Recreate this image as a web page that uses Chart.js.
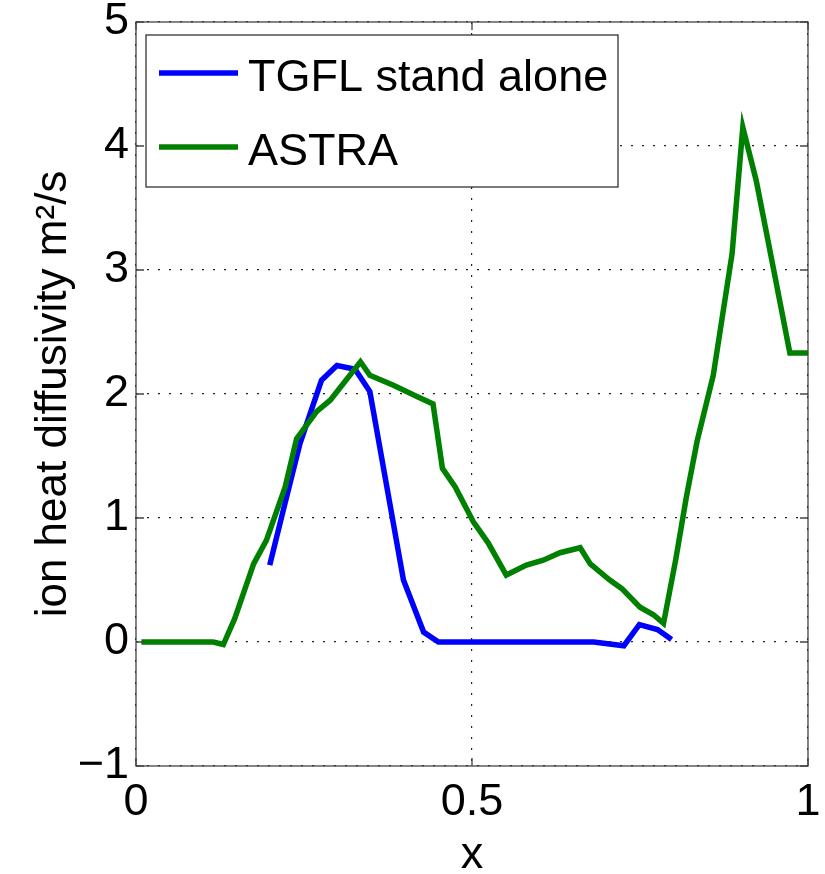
<!DOCTYPE html>
<html>
<head>
<meta charset="utf-8">
<script src="https://cdn.jsdelivr.net/npm/chart.js@4"></script>
<style>
  html, body { margin: 0; padding: 0; background: #fff; }
  #chart { display: block; }
</style>
</head>
<body>
<canvas id="chart" width="825" height="874"></canvas>
<script>
// values
const tgflX = [0.199, 0.219, 0.244, 0.276, 0.299, 0.326, 0.348, 0.398, 0.428, 0.45, 0.681, 0.726, 0.749, 0.776, 0.797];
const tgflY = [0.62, 1.06, 1.60, 2.11, 2.23, 2.20, 2.02, 0.50, 0.08, 0.0, 0.0, -0.03, 0.14, 0.10, 0.02];

const astraX = [0.008, 0.115, 0.13, 0.147, 0.175, 0.194, 0.222, 0.239, 0.269, 0.289, 0.334, 0.348, 0.383, 0.418, 0.442,
  0.456, 0.475, 0.502, 0.524, 0.551, 0.581, 0.606, 0.631, 0.661, 0.676, 0.705, 0.723, 0.75, 0.77, 0.785,
  0.803, 0.819, 0.835, 0.859, 0.887, 0.903, 0.923, 0.949, 0.973, 1.0];
const astraY = [0, 0, -0.02, 0.19, 0.63, 0.82, 1.25, 1.64, 1.86, 1.95, 2.26, 2.15, 2.07, 1.98, 1.92,
  1.40, 1.25, 0.97, 0.80, 0.54, 0.62, 0.66, 0.72, 0.76, 0.63, 0.50, 0.43, 0.28, 0.22, 0.15,
  0.66, 1.17, 1.62, 2.15, 3.13, 4.15, 3.72, 3.00, 2.33, 2.33];

const seriesNames = ["TGFL stand alone", "ASTRA"];
const xTicks = [0, 0.5, 1];
const yTicks = [-1, 0, 1, 2, 3, 4, 5];

const FONT = "'Liberation Sans', Arial, sans-serif";

function toPoints(xs, ys) {
  return xs.map((x, i) => ({ x: x, y: ys[i] }));
}

// matlab style box, inward ticks and legend
const matlabBox = {
  id: "matlabBox",
  afterDraw(chart) {
    const ctx = chart.ctx;
    const a = chart.chartArea;
    const xs = chart.scales.x;
    const ys = chart.scales.y;
    const tl = 8;
    ctx.save();
    ctx.strokeStyle = "#444";
    ctx.lineWidth = 1.3;
    ctx.strokeRect(a.left, a.top, a.right - a.left, a.bottom - a.top);
    ctx.beginPath();
    xTicks.forEach((v) => {
      const px = xs.getPixelForValue(v);
      ctx.moveTo(px, a.bottom); ctx.lineTo(px, a.bottom - tl);
      ctx.moveTo(px, a.top); ctx.lineTo(px, a.top + tl);
    });
    yTicks.forEach((v) => {
      const py = ys.getPixelForValue(v);
      ctx.moveTo(a.left, py); ctx.lineTo(a.left + tl, py);
      ctx.moveTo(a.right, py); ctx.lineTo(a.right - tl, py);
    });
    ctx.stroke();

    // legend
    const bx = a.left + 10, by = a.top + 13, bw = 472, bh = 152;
    ctx.fillStyle = "#fff";
    ctx.fillRect(bx, by, bw, bh);
    ctx.strokeStyle = "#333";
    ctx.lineWidth = 1.3;
    ctx.strokeRect(bx, by, bw, bh);
    ctx.font = "45px " + FONT;
    ctx.textBaseline = "alphabetic";
    ctx.textAlign = "left";
    chart.data.datasets.forEach((ds, i) => {
      const base = by + 56 + i * 74;
      ctx.strokeStyle = ds.borderColor;
      ctx.lineWidth = ds.borderWidth;
      ctx.beginPath();
      ctx.moveTo(bx + 13, base - 18);
      ctx.lineTo(bx + 92, base - 18);
      ctx.stroke();
      ctx.fillStyle = "#000";
      ctx.fillText(ds.label, bx + 102, base);
    });
    ctx.restore();
  }
};

new Chart(document.getElementById("chart"), {
  type: "line",
  data: {
    datasets: [
      {
        label: seriesNames[0],
        data: toPoints(tgflX, tgflY),
        borderColor: "#0000ff",
        borderWidth: 5.5,
        pointRadius: 0,
        tension: 0,
        fill: false,
        order: 1
      },
      {
        label: seriesNames[1],
        data: toPoints(astraX, astraY),
        borderColor: "#008000",
        borderWidth: 5.5,
        pointRadius: 0,
        tension: 0,
        fill: false,
        order: 0
      }
    ]
  },
  options: {
    responsive: false,
    devicePixelRatio: 1,
    animation: false,
    layout: { padding: { top: 22, right: 17, left: 0, bottom: 0 } },
    plugins: {
      legend: { display: false },
      tooltip: { enabled: false }
    },
    scales: {
      x: {
        type: "linear",
        min: 0,
        max: 1,
        afterBuildTicks: (s) => { s.ticks = xTicks.map((v) => ({ value: v })); },
        afterFit: (s) => { s.height = 108; s.paddingLeft = 0; s.paddingRight = 0; },
        ticks: {
          color: "#000",
          font: { family: FONT, size: 45, lineHeight: 0.8 },
          padding: 19,
          maxRotation: 0,
          callback: (v) => String(v)
        },
        grid: { color: "#222", lineWidth: 1.2, drawTicks: false },
        border: { display: false, dash: [2, 9] },
        title: {
          display: true,
          text: "x",
          color: "#000",
          font: { family: FONT, size: 45, lineHeight: 0.8 },
          padding: { top: 0, bottom: 0 }
        }
      },
      y: {
        type: "linear",
        min: -1,
        max: 5,
        afterBuildTicks: (s) => { s.ticks = yTicks.map((v) => ({ value: v })); },
        afterFit: (s) => { s.width = 136; s.paddingTop = 0; s.paddingBottom = 0; },
        ticks: {
          color: "#000",
          font: { family: FONT, size: 45, lineHeight: 0.8 },
          padding: 7,
          callback: (v) => String(v).replace("-", "\u2212")
        },
        grid: { color: "#222", lineWidth: 1.2, drawTicks: false },
        border: { display: false, dash: [2, 9] },
        title: {
          display: true,
          text: "ion heat diffusivity m\u00b2/s",
          color: "#000",
          font: { family: FONT, size: 44, lineHeight: 1 },
          padding: { top: 32, bottom: 0 }
        }
      }
    }
  },
  plugins: [matlabBox]
});
</script>
</body>
</html>
